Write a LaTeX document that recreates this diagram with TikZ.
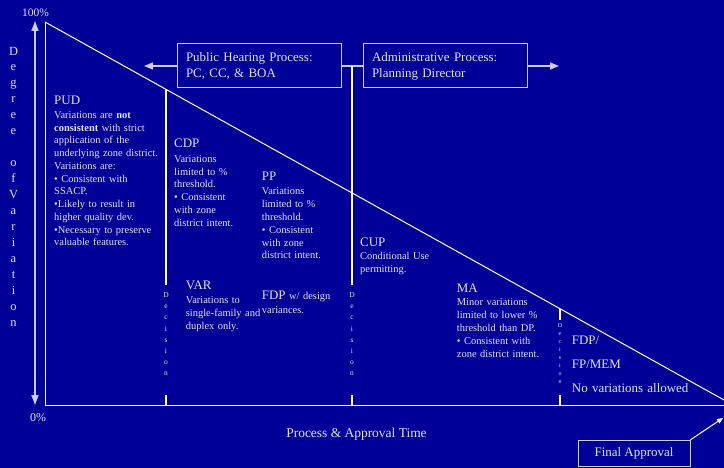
\documentclass[tikz,border=0pt]{standalone}
\usepackage{fontspec}
\setmainfont{Liberation Serif}
\usetikzlibrary{positioning,arrows.meta}
\definecolor{slide}{RGB}{0,0,153}
\definecolor{ink}{RGB}{226,226,242}
\definecolor{lav}{RGB}{204,204,255}

\tikzset{
  head/.style={anchor=base west,inner sep=0pt,text=ink,font=\fontsize{13}{15}\selectfont},
  body/.style={anchor=base west,inner sep=0pt,text=ink,align=left,text width=130bp,
    font=\fontsize{10.5}{12.8}\selectfont},
  vlabel/.style={anchor=north,inner sep=0pt,text=ink,align=center},
  procbox/.style={draw=lav,line width=1bp,text=ink,align=left,text width=146bp,
    inner xsep=9bp,minimum height=44bp,font=\fontsize{13}{16}\selectfont},
  edgeline/.style={draw=white,line width=1bp},
  flow/.style={draw=lav,line width=1.6bp,-{Triangle[width=7bp,length=9bp]}},
}

\begin{document}
\begin{tikzpicture}[x=1bp,y=-1bp]
\useasboundingbox (0,0) rectangle (724,468);
\fill[slide] (0,0) rectangle (724,468);

% degree of variation axis
\coordinate (ytop) at (35,21);
\coordinate (ybot) at (35,405);
\draw[draw=lav,line width=1.6bp,{Triangle[width=7bp,length=10bp]}-{Triangle[width=7bp,length=10bp]}] (ytop) -- (ybot);
\node (ylab) [vlabel,font=\fontsize{12.5}{16}\selectfont] at (13.5,46.7)
  {D\\e\\g\\r\\e\\e\\~\\o\\f\\V\\a\\r\\i\\a\\t\\i\\o\\n};
\node (top) [anchor=base west,inner sep=0pt,text=ink,font=\fontsize{11.5}{13}\selectfont] at (22,16.7) {100\%};
\node (zero) [anchor=base west,inner sep=0pt,text=ink,font=\fontsize{12}{14}\selectfont] at (30,421.7) {0\%};

% triangle
\coordinate (apex) at (45,22);
\coordinate (origin) at (45,405);
\coordinate (xend) at (724,405);
\coordinate (slopeend) at (724,400);
\draw[edgeline] (apex) -- (origin) -- (xend);
\draw[edgeline] (apex) -- (slopeend);

% process boxes
\node (hearing) [procbox] at (259,66) {Public Hearing Process:\\PC, CC, \& BOA};
\node (admin) [procbox] at (445,66) {Administrative Process:\\Planning Director};
\coordinate (westend) at (144,66);
\coordinate (eastend) at (559,66);
\draw[flow] (hearing) -- (westend);
\draw[flow] (admin) -- (eastend);
\draw[draw=lav,line width=1.6bp] (hearing) -- (admin);

% decision marks
\draw[edgeline,line width=1.3bp] (166,89.4) -- (166,285) (166,395) -- (166,405);
\draw[edgeline,line width=1.3bp] (352,66) -- (352,285) (352,395) -- (352,405);
\draw[edgeline,line width=1.3bp] (560,308.7) -- (560,320) (560,395) -- (560,405);
\node (dec1) [vlabel,font=\fontsize{7.5}{11.2}\selectfont] at (166,292.5) {D\\e\\c\\i\\s\\i\\o\\n};
\node (dec2) [vlabel,font=\fontsize{7.5}{11.2}\selectfont] at (352,292.5) {D\\e\\c\\i\\s\\i\\o\\n};
\node (dec3) [vlabel,font=\fontsize{6}{8}\selectfont] at (560,323.3) {D\\e\\c\\i\\s\\i\\o\\n};

% process types
\node (pud) [head] at (54,104.3) {PUD};
\node (pudtext) [body] at (54,118.3) {Variations are \textbf{not}\\\textbf{consistent} with strict\\application of the\\underlying zone district.\\Variations are:\\\textbullet{} Consistent with\\SSACP.\\\textbullet Likely to result in\\higher quality dev.\\\textbullet Necessary to preserve\\valuable features.};
\node (cdp) [head] at (174,147.7) {CDP};
\node (cdptext) [body] at (174,162.3) {Variations\\limited to \%\\threshold.\\\textbullet{} Consistent\\with zone\\district intent.};
\node (pp) [head] at (261.7,181) {PP};
\node (pptext) [body] at (261.7,195) {Variations\\limited to \%\\threshold.\\\textbullet{} Consistent\\with zone\\district intent.};
\node (var) [head] at (185.7,290) {VAR};
\node (vartext) [body] at (185.7,303.7) {Variations to\\single-family and\\duplex only.};
\node (fdp) [body] at (261.7,299.3) {{\fontsize{13}{15}\selectfont FDP} w/ design\\[1.2bp]variances.};
\node (cup) [head] at (360,246.7) {CUP};
\node (cuptext) [body] at (360,259.3) {Conditional Use\\permitting.};
\node (ma) [head] at (456.7,292.7) {MA};
\node (matext) [body] at (456.7,306) {Minor variations\\limited to lower \%\\threshold than DP.\\\textbullet{} Consistent with\\zone district intent.};
\node (fpmem) [body,font=\fontsize{13}{24}\selectfont] at (571.7,345) {FDP/\\FP/MEM\\No variations allowed};

% time axis
\node (time) [anchor=base,inner sep=0pt,text=ink,font=\fontsize{13.5}{15}\selectfont] at (356.5,437) {Process \& Approval Time};
\node (final) [draw=lav,line width=1bp,text=ink,minimum width=112bp,minimum height=26.4bp,inner sep=0pt,
  font=\fontsize{13}{15}\selectfont] at (634,453.5) {Final Approval};
\coordinate (approvalpt) at (723,418);
\draw[edgeline,-{Triangle[width=5bp,length=6bp]}] (final.north east) -- (approvalpt);
\end{tikzpicture}
\end{document}
